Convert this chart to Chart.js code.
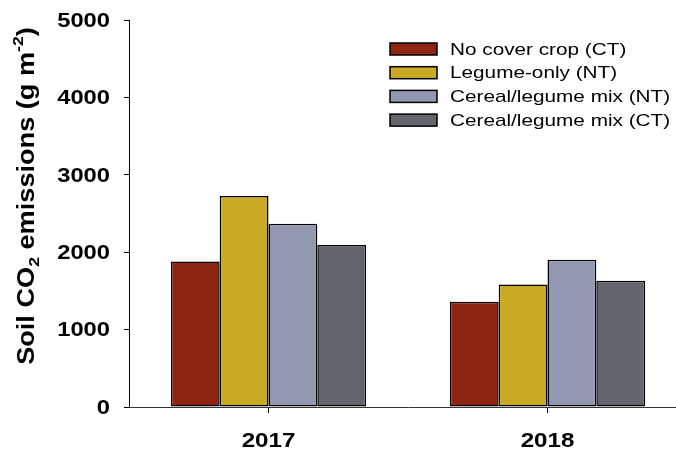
<!DOCTYPE html>
<html>
<head>
<meta charset="utf-8">
<script src="https://cdn.jsdelivr.net/npm/chart.js@4.4.1/dist/chart.umd.min.js"></script>
<style>
  body { margin: 0; background: #fff; overflow: hidden; }
  #wrap { width: 676px; height: 453px; overflow: hidden; }
</style>
</head>
<body>
<div id="wrap"><canvas id="myChart" width="690" height="453"></canvas></div>
<script>
var years = ['2017', '2018'];
var noCover = [1880, 1360];
var legumeNT = [2725, 1583];
var mixNT = [2369, 1901];
var mixCT = [2094, 1630];
var seriesLabels = ['No cover crop (CT)', 'Legume-only (NT)', 'Cereal/legume mix (NT)', 'Cereal/legume mix (CT)'];
var seriesColors = ['#8F2413', '#C8AA24', '#9198B0', '#62656E'];
var yTicks = [0, 1000, 2000, 3000, 4000, 5000];

var FONT = 'Arial, "Liberation Sans", sans-serif';

// text in this figure is a wide Arial, so every label is stretched along x
function wideText(ctx, text, x, y, sx, align) {
    ctx.save();
    ctx.translate(x, y);
    ctx.scale(sx, 1);
    ctx.textAlign = align || 'left';
    ctx.fillText(text, 0, 0);
    ctx.restore();
}

// tick labels drawn by hand so they can use wideText
var tickLabels = {
    id: 'tickLabels',
    afterDraw: function (chart) {
        var ctx = chart.ctx;
        var sx = chart.scales.x, sy = chart.scales.y;
        ctx.save();
        ctx.fillStyle = '#000';
        ctx.font = 'bold 21px ' + FONT;
        ctx.textBaseline = 'middle';
        sy.ticks.forEach(function (t, i) {
            wideText(ctx, String(t.value), 110, sy.getPixelForTick(i) + 1, 1.13, 'right');
        });
        sx.ticks.forEach(function (t, i) {
            wideText(ctx, years[i], sx.getPixelForTick(i), 441, 1.15, 'center');
        });
        ctx.restore();
    }
};

// legend box drawn inside the plot, top right
var legendBox = {
    id: 'legendBox',
    afterDraw: function (chart) {
        var ctx = chart.ctx;
        ctx.save();
        ctx.font = '17px ' + FONT;
        ctx.textBaseline = 'middle';
        chart.data.datasets.forEach(function (ds, i) {
            var y = 49 + i * 23.7;
            ctx.fillStyle = ds.backgroundColor;
            ctx.fillRect(390, y - 6, 47, 12);
            ctx.strokeStyle = '#000';
            ctx.lineWidth = 1.5;
            ctx.strokeRect(390, y - 6, 47, 12);
            ctx.fillStyle = '#000';
            wideText(ctx, ds.label, 450, y + 1, 1.22, 'left');
        });
        ctx.restore();
    }
};

// rotated y title with the sub/superscripts
var yTitle = {
    id: 'yTitle',
    afterDraw: function (chart) {
        var ctx = chart.ctx;
        var big = 'bold 23px ' + FONT;
        var small = 'bold 15px ' + FONT;
        var parts = [
            {t: 'Soil CO', f: big, dy: 0},
            {t: '2', f: small, dy: 7},
            {t: ' emissions (g m', f: big, dy: 0},
            {t: '-2', f: small, dy: -9},
            {t: ')', f: big, dy: 0}
        ];
        ctx.save();
        var total = 0;
        parts.forEach(function (p) { ctx.font = p.f; p.w = ctx.measureText(p.t).width; total += p.w; });
        ctx.translate(28, 196);
        ctx.rotate(-Math.PI / 2);
        ctx.scale(1.18, 1);
        ctx.fillStyle = '#000';
        ctx.textBaseline = 'middle';
        var x = -total / 2;
        parts.forEach(function (p) {
            ctx.font = p.f;
            ctx.fillText(p.t, x, p.dy);
            x += p.w;
        });
        ctx.restore();
    }
};

var datasets = [noCover, legumeNT, mixNT, mixCT].map(function (vals, i) {
    return {
        label: seriesLabels[i],
        data: vals,
        backgroundColor: seriesColors[i],
        borderColor: '#000',
        borderWidth: 1.5,
        borderSkipped: false,
        categoryPercentage: 0.70,
        barPercentage: 1.0
    };
});

new Chart(document.getElementById('myChart'), {
    type: 'bar',
    data: { labels: years, datasets: datasets },
    options: {
        responsive: false,
        animation: false,
        layout: { padding: { top: 20, right: 3, left: 0, bottom: 0 } },
        plugins: { legend: { display: false }, tooltip: { enabled: false } },
        scales: {
            x: {
                grid: { display: true, drawOnChartArea: false, offset: false, color: '#000', tickLength: 6 },
                border: { color: '#333', width: 1 },
                ticks: { display: false },
                afterFit: function (s) { s.height = 46; }
            },
            y: {
                min: 0,
                max: 5000,
                afterBuildTicks: function (s) { s.ticks = yTicks.map(function (v) { return {value: v}; }); },
                grid: { display: true, drawOnChartArea: false, color: '#000', tickLength: 5 },
                border: { color: '#000', width: 1 },
                ticks: { display: false },
                afterFit: function (s) { s.width = 129; }
            }
        }
    },
    plugins: [tickLabels, legendBox, yTitle]
});
</script>
</body>
</html>
